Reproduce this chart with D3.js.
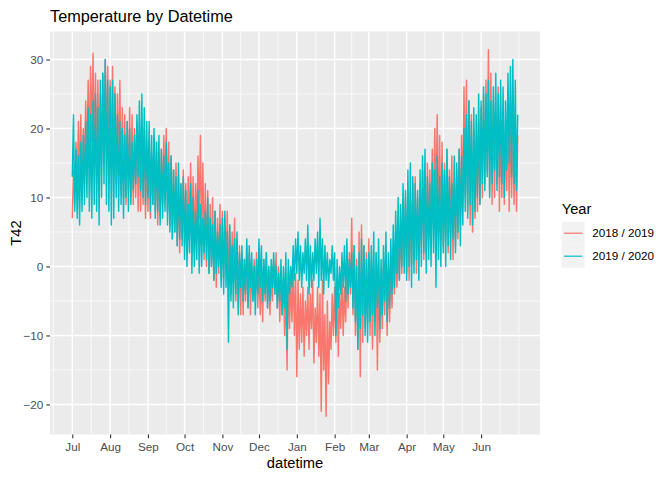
<!DOCTYPE html>
<html>
<head>
<meta charset="utf-8">
<script src="https://cdn.jsdelivr.net/npm/d3@7"></script>
<style>
  body { margin: 0; background: #fff; }
  svg text { font-family: "Liberation Sans", Arial, sans-serif; }
</style>
</head>
<body>
<svg width="672" height="480"></svg>
<script>
// legend entries and colours
const years = ['2018 / 2019', '2019 / 2020'];
const yearColors = ['#F8766D', '#00BFC4'];
const yTicks = [-20, -10, 0, 10, 20, 30];

// two-day lows / highs of T42, starting 1 July
const lowA = [
  7, 9, 11, 12, 10, 13, 15, 16, 18, 16, 14, 13, 15, 17, 16, 14,
  15, 13, 12, 14, 11, 10, 9, 11, 10, 9, 10, 8, 8, 9, 7,
  8, 7, 9, 8, 6, 7, 9, 10, 8, 6, 4, 5, 3, 2, 4,
  3, 4, 5, 3, 2, 5, 7, 4, 1, 0, -1, 0, -2, -3, -1, -2,
  -2, -1, -3, -4, -2, -5, -6, -7, -7, -5, -6, -7, -5, -4, -6,
  -7, -8, -5, -6, -7, -5, -4, -6, -8, -7, -10, -15, -9, -8, -10,
  -16, -12, -11, -13, -10, -12, -9, -14, -11, -13, -21, -15, -21.7, -17, -12, -10,
  -11, -13, -9, -10, -8, -6, -4, -7, -10, -12, -16, -11, -9, -8,
  -10, -12, -8, -15, -11, -9, -7, -10, -8, -6, -4, -3, -2, -1, 0,
  -1, -2, 0, 1, -1, 2, 3, 1, 2, 4, 5, 6, 8, 5, 4,
  3, 4, 2, 5, 1, 3, 4, 6, 9, 10, 8, 6, 5, 7, 8, 9,
  10, 12, 14, 11, 9, 10, 12, 8, 10, 9, 11, 8, 10, 9, 8
];
const highA = [
  14, 18, 21, 22, 20, 24, 27, 29, 30.9, 28, 27, 25, 28, 30, 29, 27,
  29, 26, 25, 27, 23, 22, 21, 23, 22, 20, 21, 19, 18, 20, 17,
  18, 16, 19, 18, 16, 17, 19, 20, 18, 16, 14, 15, 13, 12, 14,
  12, 13, 15, 13, 12, 16, 19, 15, 12, 11, 9, 10, 8, 7, 9, 8,
  7, 8, 6, 5, 7, 4, 3, 2, 1, 3, 2, 0, 1, 2, 0,
  -1, 1, 2, 0, -1, 1, 2, 0, -1, -2, -3, -1, -2, 0, -1,
  -2, -4, -3, -5, -3, -4, -2, -6, -3, -4, -2, -7, -5, -8, -4, -3,
  -2, -4, -1, -3, 0, 2, 7, 3, 1, 5, 6, 3, 2, 4,
  1, -1, 2, 0, -2, 1, 3, 0, -1, 2, 4, 3, 6, 8, 10,
  11, 9, 12, 13, 10, 12, 14, 13, 15, 14, 17, 20, 22, 19, 18,
  15, 17, 14, 16, 12, 14, 17, 19, 26, 27, 24, 22, 20, 18, 21, 23,
  25, 27, 31.4, 28, 24, 22, 26, 21, 23, 20, 24, 22, 21, 20, 19
];
const lowB = [
  13, 8, 7, 6, 8, 9, 10, 8, 7, 9, 8, 6, 10, 12, 9, 8,
  6, 7, 10, 8, 9, 7, 10, 8, 9, 11, 12, 13, 11, 10, 9,
  10, 8, 9, 7, 8, 6, 7, 8, 6, 5, 4, 5, 3, 4, 3,
  1, 0, 2, -1, 0, 1, -1, 0, 2, 1, -1, 0, -2, -1, 0, -3,
  -4, -3, -11, -5, -6, -4, -7, -3, -5, -4, -6, -3, -5, -7, -4,
  -3, -5, -4, -6, -5, -3, -4, -6, -5, -7, -6, -12, -4, -3, -2,
  -1, -2, -3, -1, -2, -4, -3, -2, -1, -3, -2, -4, -2, -3, -1, -2,
  -10, -6, -4, -3, -5, -4, -3, -6, -8, -12, -9, -7, -10, -11,
  -8, -7, -10, -6, -9, -7, -5, -8, -6, -4, -3, -1, -2, 0, -1,
  -2, 0, -3, -1, 1, -2, 0, 2, -1, 1, 0, 2, -3, 1, 0,
  2, 0, 3, 1, 4, 2, 5, 3, 6, 8, 7, 9, 6, 8, 10, 9,
  12, 11, 13, 10, 12, 14, 11, 13, 12, 10, 14, 15, 13, 12, 11
];
const highB = [
  22, 17, 16, 18, 19, 21, 23, 22, 24, 25, 23, 27, 28, 30, 27, 26,
  27, 25, 22, 21, 20, 19, 21, 20, 18, 19, 22, 24, 25, 23, 21,
  21, 19, 20, 18, 19, 17, 16, 18, 15, 16, 14, 13, 15, 12, 13,
  11, 9, 12, 10, 8, 11, 9, 7, 8, 10, 7, 6, 8, 5, 6, 7,
  8, 5, 6, 3, 4, 5, 2, 3, 1, 4, 3, 2, 0, 1, 4,
  3, 1, 2, 0, 1, 2, 0, -1, 1, 0, 2, 1, 0, 3, 4,
  5, 3, 2, 4, 6, 3, 2, 4, 5, 7, 4, 3, 2, 1, 3, 2,
  1, 0, 2, 3, 4, 1, 2, 3, 0, 2, 4, 3, 1, 2,
  3, 5, 2, 4, 1, 3, 5, 2, 4, 6, 8, 10, 9, 12, 11,
  14, 15, 13, 12, 11, 14, 16, 17, 13, 12, 15, 14, 16, 13, 15,
  14, 17, 13, 12, 16, 15, 17, 16, 20, 22, 24, 21, 23, 22, 25, 24,
  26, 25, 27, 24, 26, 28, 25, 27, 26, 24, 28, 29, 30, 27, 22
];

const svg = d3.select('svg');
const margin = { left: 50, right: 540, top: 31.5, bottom: 434.5 };
const start = new Date(Date.UTC(2018, 6, 1));

// each two-day step: low on the first day, high on the second
function toPoints(lows, highs) {
  const pts = [];
  lows.forEach((lo, i) => {
    pts.push({ date: d3.utcDay.offset(start, 2 * i), value: lo });
    pts.push({ date: d3.utcDay.offset(start, 2 * i + 1), value: highs[i] });
  });
  return pts;
}
const series = [toPoints(lowA, highA), toPoints(lowB, highB)];
const all = series.flat();

const xExt = d3.extent(all, (d) => d.date);
const xPad = (xExt[1] - xExt[0]) * 0.05;
const x = d3.scaleUtc()
  .domain([new Date(+xExt[0] - xPad), new Date(+xExt[1] + xPad)])
  .range([margin.left, margin.right]);

const yExt = d3.extent(all, (d) => d.value);
const yPad = (yExt[1] - yExt[0]) * 0.05;
const y = d3.scaleLinear()
  .domain([yExt[0] - yPad, yExt[1] + yPad])
  .range([margin.bottom, margin.top]);

// panel
svg.append('rect')
  .attr('x', margin.left).attr('y', margin.top)
  .attr('width', margin.right - margin.left)
  .attr('height', margin.bottom - margin.top)
  .attr('fill', '#EBEBEB');

// month breaks and minor breaks (midpoints, extended one step each side)
const majors = d3.utcMonth.range(xExt[0], xExt[1]);
const step = majors[1] - majors[0];
const ext = [new Date(+majors[0] - step), ...majors, new Date(+majors[majors.length - 1] + step)];
const minorX = [];
ext.forEach((d, i) => {
  if (i > 0) minorX.push(new Date((+ext[i - 1] + +d) / 2));
  if (i === 0 || i === ext.length - 1) minorX.push(d);
});
const yDom = y.domain();
const minorY = d3.range(-25, 40, 10).filter((v) => v > yDom[0] && v < yDom[1]);

const grid = svg.append('g');
grid.selectAll('.minx').data(minorX.filter((d) => x(d) > margin.left && x(d) < margin.right))
  .join('line')
  .attr('x1', (d) => x(d)).attr('x2', (d) => x(d))
  .attr('y1', margin.top).attr('y2', margin.bottom)
  .attr('stroke', '#fff').attr('stroke-width', 0.7);
grid.selectAll('.miny').data(minorY)
  .join('line')
  .attr('y1', (d) => y(d)).attr('y2', (d) => y(d))
  .attr('x1', margin.left).attr('x2', margin.right)
  .attr('stroke', '#fff').attr('stroke-width', 0.7);
grid.selectAll('.majx').data(majors)
  .join('line')
  .attr('x1', (d) => x(d)).attr('x2', (d) => x(d))
  .attr('y1', margin.top).attr('y2', margin.bottom)
  .attr('stroke', '#fff').attr('stroke-width', 1.4);
grid.selectAll('.majy').data(yTicks)
  .join('line')
  .attr('y1', (d) => y(d)).attr('y2', (d) => y(d))
  .attr('x1', margin.left).attr('x2', margin.right)
  .attr('stroke', '#fff').attr('stroke-width', 1.4);

// lines
const line = d3.line()
  .x((d) => x(d.date))
  .y((d) => y(d.value));

svg.append('g').selectAll('path')
  .data(series)
  .join('path')
  .attr('d', line)
  .attr('fill', 'none')
  .attr('stroke', (d, i) => yearColors[i])
  .attr('stroke-width', 1.45)
  .attr('stroke-linejoin', 'round');

// axes
const xAxis = svg.append('g')
  .attr('transform', `translate(0,${margin.bottom})`)
  .call(d3.axisBottom(x).tickValues(majors).tickFormat(d3.utcFormat('%b'))
    .tickSize(3.7).tickPadding(4));
const yAxis = svg.append('g')
  .attr('transform', `translate(${margin.left},0)`)
  .call(d3.axisLeft(y).tickValues(yTicks).tickSize(3.7).tickPadding(3));

[xAxis, yAxis].forEach((ax) => {
  ax.select('.domain').remove();
  ax.selectAll('.tick line').attr('stroke', '#333333').attr('stroke-width', 1.1);
  ax.selectAll('.tick text')
    .attr('fill', '#4D4D4D')
    .style('font-size', '11.7px')
    .style('font-family', '"Liberation Sans", Arial, sans-serif');
});

// titles
svg.append('text')
  .attr('x', 50).attr('y', 21.5)
  .style('font-size', '16.3px')
  .text('Temperature by Datetime');

svg.append('text')
  .attr('x', (margin.left + margin.right) / 2).attr('y', 468)
  .attr('text-anchor', 'middle')
  .style('font-size', '14.7px')
  .text('datetime');

svg.append('text')
  .attr('transform', `translate(20.5,${(margin.top + margin.bottom) / 2}) rotate(-90)`)
  .attr('text-anchor', 'middle')
  .style('font-size', '14.7px')
  .text('T42');

// legend
const legend = svg.append('g').attr('transform', 'translate(561.7,0)');
legend.append('text')
  .attr('x', 0).attr('y', 214)
  .style('font-size', '14.7px')
  .text('Year');

const keys = legend.selectAll('.key')
  .data(years)
  .join('g')
  .attr('transform', (d, i) => `translate(0,${221.7 + i * 23})`);
keys.append('rect')
  .attr('width', 23).attr('height', 23)
  .attr('fill', '#F2F2F2');
keys.append('line')
  .attr('x1', 2.3).attr('x2', 20.7)
  .attr('y1', 11.5).attr('y2', 11.5)
  .attr('stroke', (d, i) => yearColors[i])
  .attr('stroke-width', 1.2);
keys.append('text')
  .attr('x', 30.6).attr('y', 11.5)
  .attr('dy', '0.35em')
  .style('font-size', '11.7px')
  .text((d) => d);
</script>
</body>
</html>
